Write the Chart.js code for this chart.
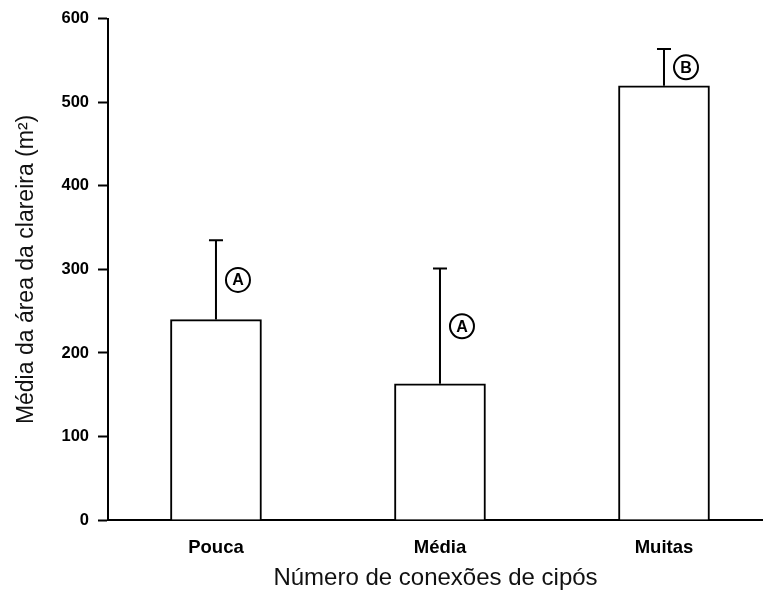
<!DOCTYPE html>
<html>
<head>
<meta charset="utf-8">
<script src="https://cdn.jsdelivr.net/npm/chart.js@4.4.1/dist/chart.umd.min.js"></script>
<style>
  html, body { margin: 0; padding: 0; background: #fff; }
  #wrap { width: 763px; height: 601px; }
</style>
</head>
<body>
<div id="wrap"><canvas id="gapChart"></canvas></div>
<script>
// values
var categories = ['Pouca', 'Média', 'Muitas'];
var means = [240, 163, 520];
var errors = [95, 138, 44];
var groupLetters = ['A', 'A', 'B'];
var yTicks = [0, 100, 200, 300, 400, 500, 600];

var FONT = "'Liberation Sans', Arial, Helvetica, sans-serif";

// error bars + circled letters
var errorBarPlugin = {
    id: 'errorBars',
    afterDatasetsDraw: function (chart) {
        var ctx = chart.ctx;
        var xs = chart.scales.x, ys = chart.scales.y;
        ctx.save();
        ctx.strokeStyle = '#000';
        ctx.fillStyle = '#000';
        ctx.lineWidth = 2;
        for (var i = 0; i < means.length; i++) {
            var cx = xs.getPixelForValue(i + 1);
            var yTop = ys.getPixelForValue(means[i]);
            var yErr = ys.getPixelForValue(means[i] + errors[i]);
            ctx.beginPath();
            ctx.moveTo(cx, yTop);
            ctx.lineTo(cx, yErr);
            ctx.moveTo(cx - 7, yErr);
            ctx.lineTo(cx + 7, yErr);
            ctx.stroke();

            // letter sits halfway up the error bar, to the right of it
            var ly = ys.getPixelForValue(means[i] + errors[i] / 2);
            var lx = cx + 22;
            ctx.beginPath();
            ctx.arc(lx, ly, 12, 0, Math.PI * 2);
            ctx.stroke();
            ctx.font = 'bold 16px ' + FONT;
            ctx.textAlign = 'center';
            ctx.textBaseline = 'middle';
            ctx.fillText(groupLetters[i], lx, ly + 1);
        }
        ctx.restore();
    }
};

var ctx = document.getElementById('gapChart').getContext('2d');
var chart = new Chart(ctx, {
    type: 'bar',
    data: {
        datasets: [{
            data: means.map(function (m, i) { return { x: i + 1, y: m }; }),
            backgroundColor: '#fff',
            borderColor: '#000',
            borderWidth: 2,
            barThickness: 91
        }]
    },
    options: {
        responsive: true,
        maintainAspectRatio: false,
        animation: false,
        layout: { padding: { top: 17, right: 0, left: 0, bottom: 0 } },
        plugins: {
            legend: { display: false },
            tooltip: { enabled: false }
        },
        scales: {
            x: {
                type: 'linear',
                offset: false,
                min: 0.518,
                max: 3.442,
                afterBuildTicks: function (scale) {
                    scale.ticks = categories.map(function (c, i) { return { value: i + 1 }; });
                },
                afterFit: function (scale) { scale.height = 81; },
                grid: { display: false, drawTicks: false },
                border: { display: true, color: '#000', width: 2 },
                ticks: {
                    padding: 17,
                    color: '#000',
                    font: { family: FONT, size: 18.5, weight: 'bold' },
                    callback: function (v) { return categories[v - 1] || ''; }
                },
                title: {
                    display: true,
                    text: 'Número de conexões de cipós',
                    color: '#111',
                    font: { family: FONT, size: 24 },
                    padding: { top: 0, bottom: 8 }
                }
            },
            y: {
                min: 0,
                max: 600,
                afterBuildTicks: function (scale) {
                    scale.ticks = yTicks.map(function (v) { return { value: v }; });
                },
                afterFit: function (scale) { scale.width = 108; },
                grid: {
                    drawOnChartArea: false,
                    drawTicks: true,
                    tickLength: 10,
                    tickWidth: 2,
                    tickColor: '#000'
                },
                border: { display: true, color: '#000', width: 2 },
                ticks: {
                    padding: 9,
                    color: '#000',
                    font: { family: FONT, size: 16.5, weight: 'bold' }
                },
                title: {
                    display: true,
                    text: 'Média da área da clareira (m²)',
                    color: '#111',
                    font: { family: FONT, size: 23 },
                    padding: { top: 13, bottom: 0 }
                }
            }
        }
    },
    plugins: [errorBarPlugin]
});
</script>
</body>
</html>
